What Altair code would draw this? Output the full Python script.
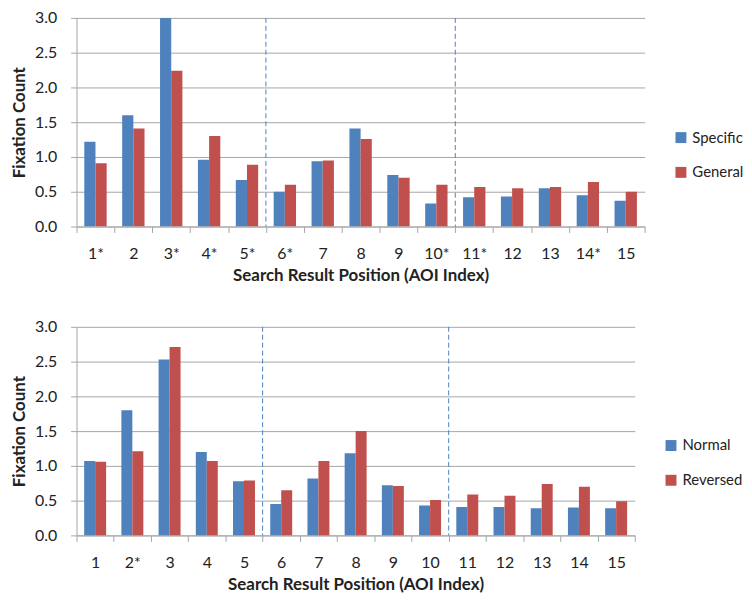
import altair as alt
import pandas as pd

# ---- data ----
top_positions = ["1*", "2", "3*", "4*", "5*", "6*", "7", "8", "9", "10*", "11*", "12", "13", "14*", "15"]
top_specific = [1.22, 1.60, 3.00, 0.96, 0.67, 0.50, 0.94, 1.41, 0.74, 0.33, 0.42, 0.43, 0.55, 0.45, 0.37]
top_general = [0.91, 1.41, 2.24, 1.30, 0.89, 0.60, 0.95, 1.26, 0.70, 0.60, 0.57, 0.55, 0.57, 0.64, 0.50]
top_series = ["Specific", "General"]
top_dividers = ["5*", "10*"]

bot_positions = ["1", "2*", "3", "4", "5", "6", "7", "8", "9", "10", "11", "12", "13", "14", "15"]
bot_normal = [1.07, 1.80, 2.53, 1.20, 0.78, 0.45, 0.82, 1.18, 0.72, 0.43, 0.41, 0.41, 0.39, 0.40, 0.39]
bot_reversed = [1.06, 1.21, 2.71, 1.07, 0.79, 0.65, 1.07, 1.50, 0.71, 0.51, 0.59, 0.57, 0.74, 0.70, 0.49]
bot_series = ["Normal", "Reversed"]
bot_dividers = ["5", "10"]

y_ticks = [0.0, 0.5, 1.0, 1.5, 2.0, 2.5, 3.0]
colors = ["#4F81BD", "#C0504D"]
FONT = "Lato"
GRID = "#A6A6A6"
# fraction of each category slot where the bar pair starts / splits / ends
BAND_EDGES = [0.205, 0.5, 0.795]


def panel(positions, s1, s2, series, dividers, width, legend_x, legend_y):
    df1 = pd.DataFrame({"pos": positions, "series": series[0], "value": s1})
    df2 = pd.DataFrame({"pos": positions, "series": series[1], "value": s2})
    div = pd.DataFrame({"pos": dividers, "top": [3.0] * len(dividers), "bottom": [0.0] * len(dividers)})

    xscale = alt.Scale(domain=positions, paddingInner=0, paddingOuter=0)
    yscale = alt.Scale(domain=[0, 3], nice=False, zero=True, padding=0)
    xaxis = alt.Axis(tickBand="extent", labelAngle=0, tickSize=6,
                     labelPadding=13, titlePadding=6,
                     domainColor=GRID, tickColor=GRID, grid=False)
    yaxis = alt.Axis(values=y_ticks, format=".1f", tickSize=6,
                     labelOverlap=False, labelPadding=14, titlePadding=6,
                     domainColor=GRID, tickColor=GRID, gridColor=GRID)
    xtitle = "Search Result Position (AOI Index)"
    ytitle = "Fixation Count"
    color = alt.Color("series:N", sort=series,
                      scale=alt.Scale(domain=series, range=colors),
                      legend=alt.Legend(title=None, orient="none",
                                        legendX=legend_x, legendY=legend_y,
                                        symbolType="square", symbolSize=121,
                                        symbolStrokeWidth=0, labelFontSize=15,
                                        labelFont=FONT, labelColor="#222",
                                        rowPadding=19, labelOffset=4))

    def bar_layer(df, b0, b1):
        return alt.Chart(df).mark_bar(clip=True).encode(
            x=alt.X("pos:N", scale=xscale, sort=positions, bandPosition=b0,
                    title=xtitle, axis=xaxis),
            x2=alt.X2("pos:N", bandPosition=b1),
            y=alt.Y("value:Q", scale=yscale, title=ytitle, axis=yaxis),
            y2=alt.Y2(datum=0),
            color=color,
        )

    bars1 = bar_layer(df1, BAND_EDGES[0], BAND_EDGES[1])
    bars2 = bar_layer(df2, BAND_EDGES[1], BAND_EDGES[2])

    rules = alt.Chart(div).mark_rule(color="#4F81BD", strokeDash=[5, 3], strokeWidth=1).encode(
        x=alt.X("pos:N", scale=xscale, sort=positions, bandPosition=1, title=xtitle, axis=xaxis),
        y=alt.Y("top:Q", scale=yscale, title=ytitle, axis=yaxis),
        y2="bottom:Q",
    )

    return alt.layer(bars1, bars2, rules).properties(width=width, height=210)


top = panel(top_positions, top_specific, top_general, top_series, top_dividers, 572, 601, 113)
bottom = panel(bot_positions, bot_normal, bot_reversed, bot_series, bot_dividers, 562, 591, 112)

chart = alt.vconcat(top, bottom, spacing=36).resolve_scale(
    color="independent", x="independent"
).properties(
    padding={"left": 2, "top": 0, "right": 0, "bottom": 0}
).configure_view(stroke=None).configure_axis(
    labelFont=FONT, labelFontSize=16, labelColor="#222",
    titleFont=FONT, titleFontSize=17, titleFontWeight="bold", titleColor="#222",
).configure_legend(labelFont=FONT)

chart.save("out.html", embed_options={"renderer": "svg", "actions": False})
